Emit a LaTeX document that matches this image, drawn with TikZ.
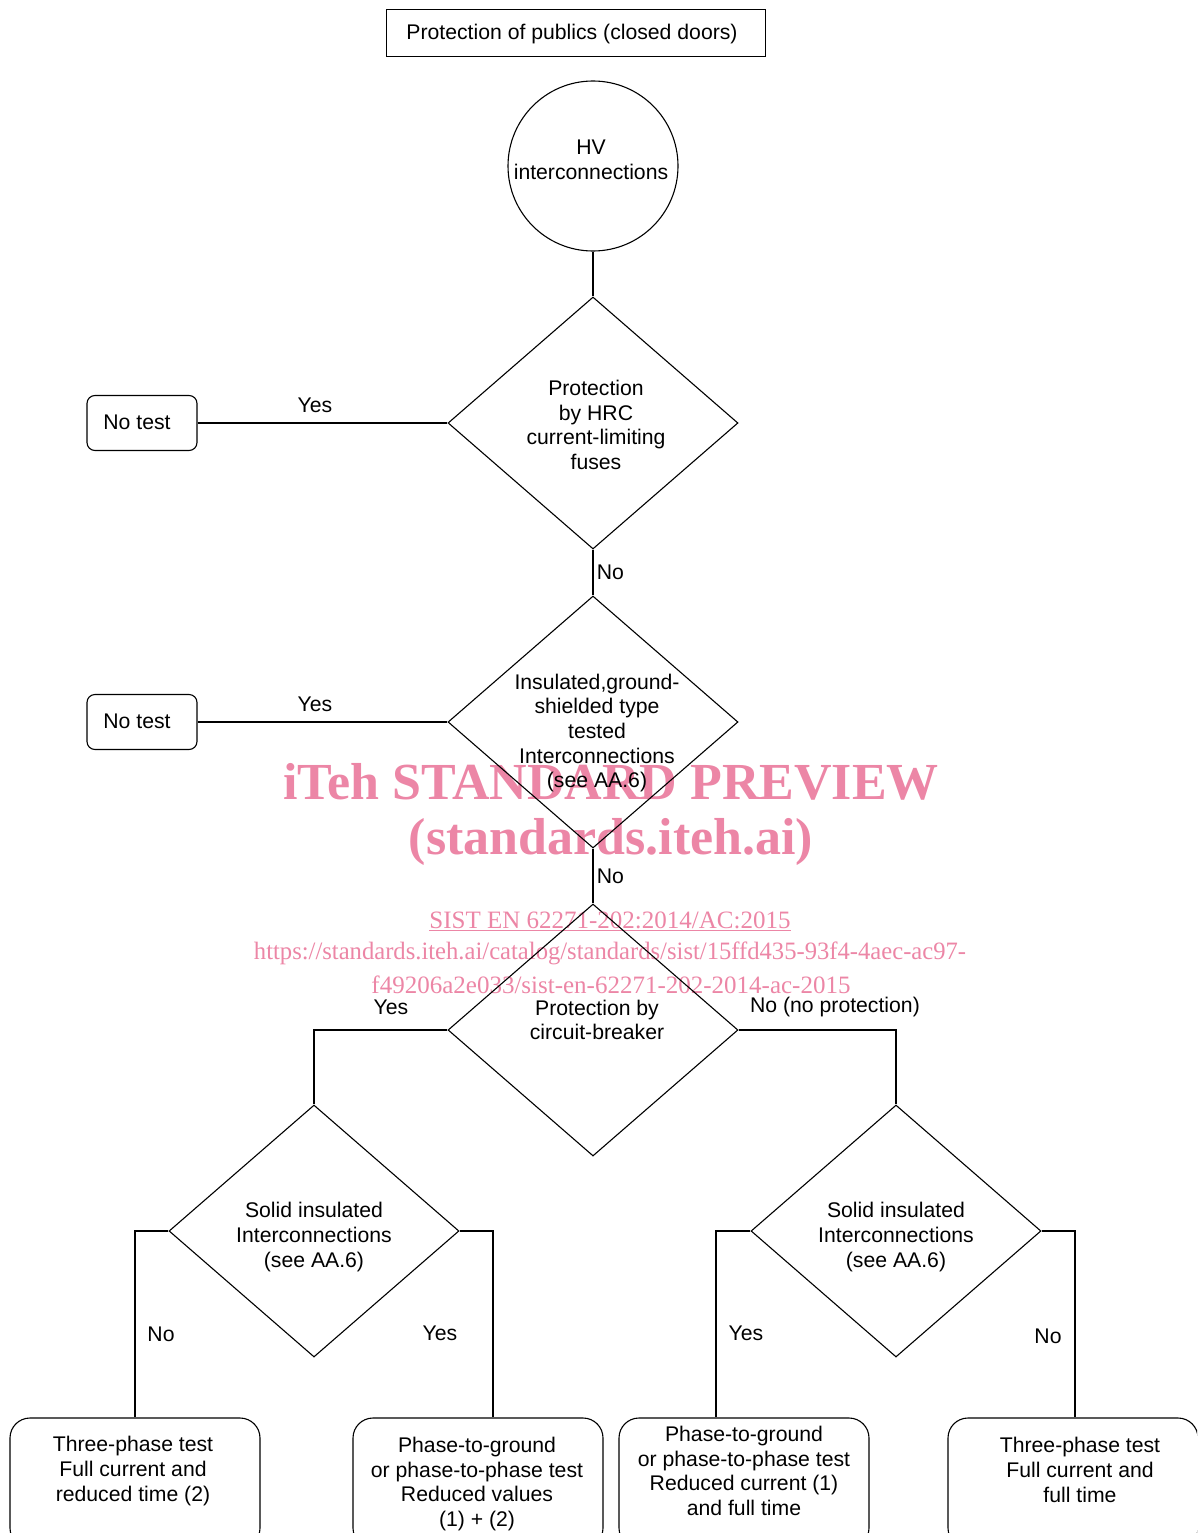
\documentclass[tikz,border=0pt]{standalone}
\usepackage{fontspec}
\setmainfont{Liberation Sans}
\newfontfamily\wmfont{Liberation Serif}
\usetikzlibrary{shapes.geometric,positioning,calc}
\definecolor{wmpink}{RGB}{236,134,166}

\begin{document}
\begin{tikzpicture}[
        x=1bp, y=-1bp,
        every node/.style={font=\fontsize{21.2bp}{24.7bp}\selectfont},
        line/.style={line width=1.1bp},
        titlebox/.style={rectangle, draw, line width=1.1bp, minimum width=379bp, minimum height=47bp},
        start/.style={circle, draw, line width=1.1bp, minimum size=170bp, align=center},
        decision/.style={diamond, draw, line width=1.1bp, minimum width=290bp, minimum height=252bp, inner sep=0pt},
        notest/.style={rectangle, rounded corners=8bp, draw, line width=1.1bp, minimum width=110bp, minimum height=55bp},
        testbox/.style={rectangle, rounded corners=20bp, draw, line width=1.1bp, minimum width=250bp, minimum height=130bp},
        txt/.style={align=center, inner sep=0pt},
        wmbig/.style={text=wmpink, font=\wmfont\bfseries\fontsize{52bp}{60bp}\selectfont},
        wmsmall/.style={text=wmpink, font=\wmfont\fontsize{25bp}{30bp}\selectfont},
    ]
        \useasboundingbox (0,0) rectangle (1197,1533);
        \clip (0,0) rectangle (1197,1533);

        % Watermark behind the chart
        \node[wmbig] (wm1) at (611,782) {iTeh STANDARD PREVIEW};
        \node[wmbig] (wm2) at (611,842) {(standards.iteh.ai)};
        \node[wmsmall] (wm3) at (610,921) {\underline{SIST EN 62271-202:2014/AC:2015}};
        \node[wmsmall, xscale=0.985] (wm4) at (610,953) {https://standards.iteh.ai/catalog/standards/sist/15ffd435-93f4-4aec-ac97-};
        \node[wmsmall] (wm5) at (611,985) {f49206a2e033/sist-en-62271-202-2014-ac-2015};

        % Top: title and start circle
        \node[titlebox] (title) at (576,33) {};
        \node[txt] (titlet) at (572,34) {Protection of publics (closed doors)};
        \node[start] (hv) at (593,166) {};
        \node[txt] (hvt) at (591,160) {HV\\interconnections};

        % Main column of decisions
        \node[decision] (fuse) at (593,423) {};
        \node[txt] (fuset) at (596,425) {Protection\\by HRC\\current-limiting\\fuses};
        \node[decision] (shield) at (593,722) {};
        \node[txt] (shieldt) at (597,733) {Insulated,ground-\\shielded type\\tested\\Interconnections\\(see AA.6)};
        \node[decision] (breaker) at (593,1030) {};
        \node[txt] (breakert) at (597,1020) {Protection by\\circuit-breaker};

        % No test boxes on the left
        \node[notest] (notest1) at (142,423) {};
        \node[txt] (notest1t) at (137,422) {No test};
        \node[notest] (notest2) at (142,722) {};
        \node[txt] (notest2t) at (137,721) {No test};

        % Second level decisions
        \node[decision] (solidL) at (314,1231) {};
        \node[txt] (solidLt) at (314,1237) {Solid insulated\\Interconnections\\(see AA.6)};
        \node[decision] (solidR) at (896,1231) {};
        \node[txt] (solidRt) at (896,1237) {Solid insulated\\Interconnections\\(see AA.6)};

        % Test boxes at the bottom
        \node[testbox] (test1) at (135,1483) {};
        \node[txt] (test1t) at (133,1471) {Three-phase test\\Full current and\\reduced time (2)};
        \node[testbox] (test2) at (478,1483) {};
        \node[txt] (test2t) at (477,1484) {Phase-to-ground\\or phase-to-phase test\\Reduced values\\(1) + (2)};
        \node[testbox] (test3) at (744,1483) {};
        \node[txt] (test3t) at (744,1471) {Phase-to-ground\\or phase-to-phase test\\Reduced current (1)\\and full time};
        \node[testbox] (test4) at (1073,1483) {};
        \node[txt] (test4t) at (1080,1470) {Three-phase test\\Full current and\\full time};

        % Main column lines
        \draw[line] (hv) -- (fuse);
        \draw[line] (fuse) -- node[right] {No} (shield);
        \draw[line] (shield) -- node[right] {No} (breaker);

        % Yes branches to no test
        \draw[line] (notest1.east) -- node[pos=0.47, above=6bp] {Yes} (fuse.west);
        \draw[line] (notest2.east) -- node[pos=0.47, above=6bp] {Yes} (shield.west);

        % Circuit-breaker branches
        \draw[line] (breaker.west) -| (solidL.north);
        \draw[line] (breaker.east) -| (solidR.north);
        \node (yes3) at (391,1007) {Yes};
        \node (no3) at (835,1007) {No (no protection)};

        % Down to the test boxes
        \draw[line] (solidL.west) -| (test1.north);
        \draw[line] (solidL.east) -| ($(test2.north)+(15,0)$);
        \draw[line] (solidR.west) -| ($(test3.north)+(-28,0)$);
        \draw[line] (solidR.east) -| ($(test4.north)+(2,0)$);
        \node (noL) at (161,1334) {No};
        \node (yesL) at (440,1333) {Yes};
        \node (yesR) at (746,1333) {Yes};
        \node (noR) at (1048,1336) {No};

    \end{tikzpicture}
\end{document}
